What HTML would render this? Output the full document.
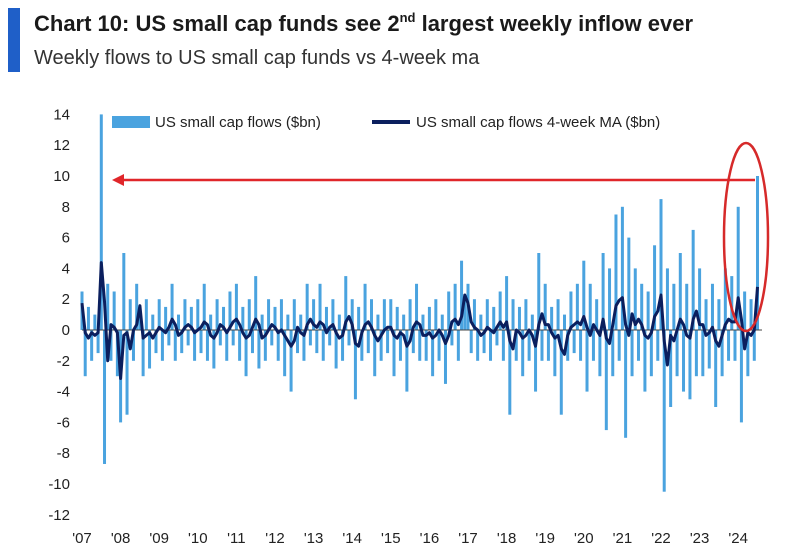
<!DOCTYPE html>
<html><head><meta charset="utf-8"><style>
body{margin:0;background:#fff;width:795px;height:558px;overflow:hidden;font-family:"Liberation Sans",sans-serif}
svg{position:absolute;left:0;top:0}
</style></head><body>
<svg width="795" height="558">
<rect x="8" y="8" width="12" height="64" fill="#1f5fc8"/>
<text x="34" y="31" font-size="22" font-weight="bold" fill="#1a1a1a">Chart 10: US small cap funds see 2<tspan font-size="13" dy="-9">nd</tspan><tspan dy="9"> largest weekly inflow ever</tspan></text>
<text x="34" y="64" font-size="20" fill="#333">Weekly flows to US small cap funds vs 4-week ma</text>
<g id="yaxis"></g>
<g id="xaxis"></g>
<g id="bars"></g>
<line x1="82" y1="330" x2="762" y2="330" stroke="#444" stroke-width="1"/>
<path id="ma" fill="none" stroke="#0b1f5e" stroke-width="3" stroke-linejoin="round"/>
<g>
<rect x="112" y="116" width="38" height="12" fill="#4aa3df"/>
<text x="155" y="127" font-size="15" fill="#222">US small cap flows ($bn)</text>
<line x1="372" y1="122" x2="410" y2="122" stroke="#0b1f5e" stroke-width="4"/>
<text x="416" y="127" font-size="15" fill="#222">US small cap flows 4-week MA ($bn)</text>
</g>
<line x1="755" y1="180" x2="122" y2="180" stroke="#e0262a" stroke-width="2.5"/>
<polygon points="112,180 124,174 124,186" fill="#e0262a"/>
<ellipse cx="746" cy="237" rx="22" ry="94" fill="none" stroke="#d62a2a" stroke-width="2.5"/>
</svg>
<script>
const yTicks=[14,12,10,8,6,4,2,0,-2,-4,-6,-8,-10,-12];
const xLabels=["'07","'08","'09","'10","'11","'12","'13","'14","'15","'16","'17","'18","'19","'20","'21","'22","'23","'24"];
const flows=[
2.5,-3,1.5,-2,1,-1.5,14,-8.7,3,-2,2.5,-3,
-6,5,-5.5,2,-2,3,1.5,-3,2,-2.5,1,-1.5,
2,-2,1.5,-1,3,-2,1,-1.5,2,-1,1.5,-2,
2,-1.5,3,-2,1,-2.5,2,-1,1.5,-2,2.5,-1,
3,-2,1.5,-3,2,-1.5,3.5,-2.5,1,-2,2,-1,
1.5,-2,2,-3,1,-4,2,-1.5,1,-2,3,-1,
2,-1.5,3,-2,1.5,-1,2,-2.5,1,-2,3.5,-1,
2,-4.5,1.5,-2,3,-1.5,2,-3,1,-2,2,-1.5,
2,-3,1.5,-2,1,-4,2,-1.5,3,-2,1,-2,
1.5,-3,2,-2,1,-3.5,2.5,-1,3,-2,4.5,2,
3,-1.5,2,-2,1,-1.5,2,-2,1.5,-1,2.5,-2,
3.5,-5.5,2,-2,1.5,-3,2,-2,1,-4,5,-2,
3,-2,1.5,-3,2,-5.5,1,-2,2.5,-1.5,3,-2,
4.5,-4,3,-2,2,-3,5,-6.5,4,-3,7.5,-2,
8,-7,6,-3,4,-2,3,-4,2.5,-3,5.5,-2,
8.5,-10.5,4,-5,3,-3,5,-4,3,-4.5,6.5,-3,
4,-3,2,-2.5,3,-5,2,-3,4,-2,3.5,-2,
8,-6,2.5,-3,2,-2,10];
const NS='http://www.w3.org/2000/svg';
const y=v=>330-v*15.4;
const x=i=>82+i/12*38.6;
const ya=document.getElementById('yaxis');
yTicks.forEach(t=>{const e=document.createElementNS(NS,'text');


e.setAttribute('x',70);e.setAttribute('y',y(t)+5);e.setAttribute('text-anchor','end');e.setAttribute('font-size','15');e.setAttribute('fill','#222');e.textContent=t;ya.appendChild(e);});
const xa=document.getElementById('xaxis');
xLabels.forEach((l,i)=>{const e=document.createElementNS(NS,'text');


e.setAttribute('x',x(i*12));e.setAttribute('y',543);e.setAttribute('text-anchor','middle');e.setAttribute('font-size','15');e.setAttribute('fill','#222');e.textContent=l;xa.appendChild(e);});
const bg=document.getElementById('bars');
flows.forEach((v,i)=>{const r=document.createElementNS(NS,'rect');


r.setAttribute('x',x(i)-1.5);r.setAttribute('width',3);r.setAttribute('y',Math.min(y(v),y(0)));r.setAttribute('height',Math.abs(y(v)-y(0)));r.setAttribute('fill','#4aa3df');bg.appendChild(r);});
let d='';
flows.forEach((v,i)=>{const s=flows.slice(Math.max(0,i-1),i+1);const m=s.reduce((a,b)=>a+b,0)/s.length*0.7;d+=(i?'L':'M')+x(i).toFixed(1)+','+y(m).toFixed(1);});
document.getElementById('ma').setAttribute('d',d);
</script>
</body></html>
